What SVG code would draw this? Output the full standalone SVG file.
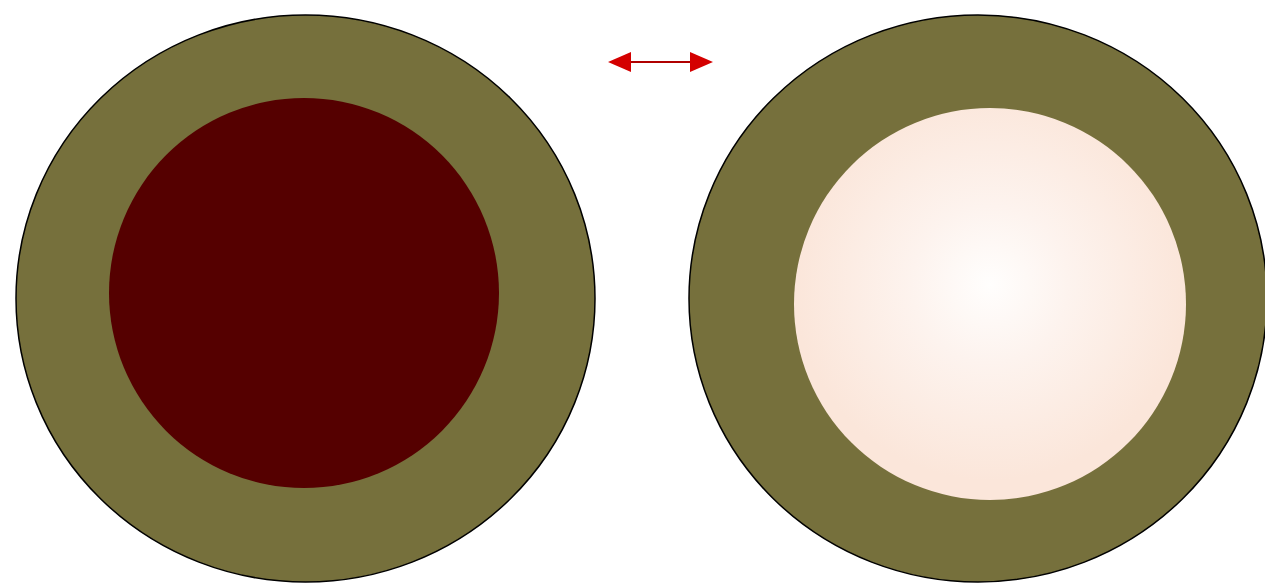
<svg xmlns="http://www.w3.org/2000/svg" width="1265" height="584" viewBox="0 0 1265 584">
  <style>
    .outer { fill: #76703c; stroke: #000; stroke-width: 1.5; }
    .conn { stroke: #b00000; stroke-width: 2; fill: none; }
    .head { fill: #d40000; }
  </style>
  <defs>
    <radialGradient id="pale" cx="0.5" cy="0.45" r="0.5">
      <stop offset="0" stop-color="#fffefd"/>
      <stop offset="0.4" stop-color="#fdf3ee"/>
      <stop offset="1" stop-color="#fbe6da"/>
    </radialGradient>
  </defs>
  <rect width="1265" height="584" fill="#fff"/>
  <g id="left-tube">
    <ellipse class="outer" cx="305.5" cy="298.5" rx="289.5" ry="283.5"/>
    <circle cx="304" cy="293" r="195" fill="#550000"/>
  </g>
  <g id="right-tube">
    <ellipse class="outer" cx="978" cy="298.5" rx="289" ry="283.5"/>
    <circle cx="990" cy="304" r="196" fill="url(#pale)"/>
  </g>
  <g id="connectors">
    <line class="conn" x1="628" y1="62" x2="692" y2="62"/>
    <polygon class="head" points="608,62 631,52 631,72"/>
    <polygon class="head" points="713,62 690,52 690,72"/>
  </g>
</svg>
